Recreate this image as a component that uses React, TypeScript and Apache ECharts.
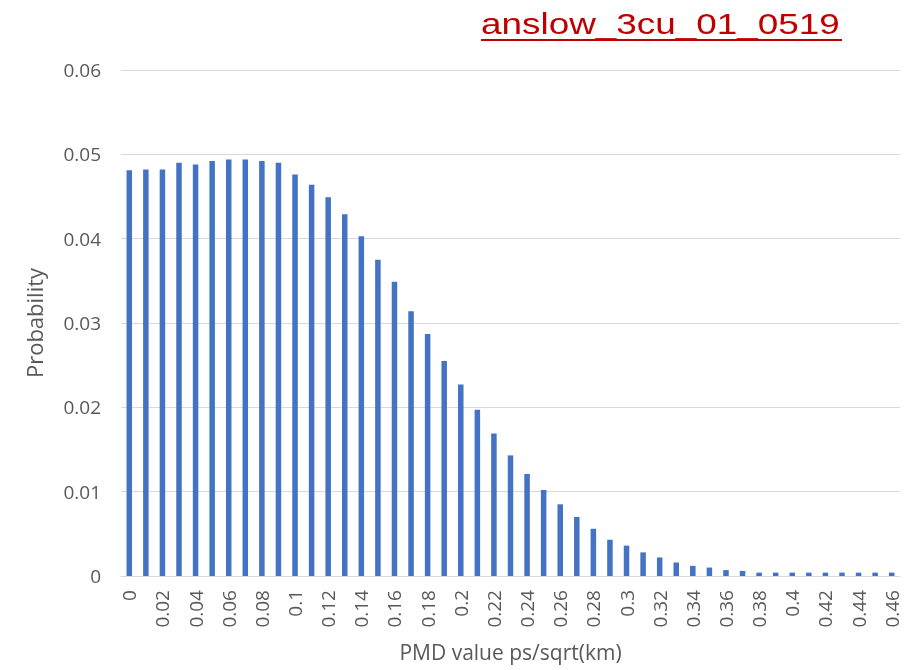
import React, { useEffect, useRef } from "react";
import * as echarts from "echarts";

const categories: string[] = [
  "0", "0.01", "0.02", "0.03", "0.04", "0.05", "0.06", "0.07", "0.08", "0.09",
  "0.1", "0.11", "0.12", "0.13", "0.14", "0.15", "0.16", "0.17", "0.18", "0.19",
  "0.2", "0.21", "0.22", "0.23", "0.24", "0.25", "0.26", "0.27", "0.28", "0.29",
  "0.3", "0.31", "0.32", "0.33", "0.34", "0.35", "0.36", "0.37", "0.38", "0.39",
  "0.4", "0.41", "0.42", "0.43", "0.44", "0.45", "0.46",
];

const probability: number[] = [
  0.0481, 0.0482, 0.0482, 0.049, 0.0488, 0.0492, 0.0494, 0.0494, 0.0492, 0.049,
  0.0476, 0.0464, 0.0449, 0.0429, 0.0403, 0.0375, 0.0349, 0.0314, 0.0287, 0.0255,
  0.0227, 0.0197, 0.0169, 0.0143, 0.0121, 0.0102, 0.0085, 0.007, 0.0056, 0.0043,
  0.0036, 0.0028, 0.0022, 0.0016, 0.0012, 0.001, 0.0007, 0.0006, 0.0004, 0.0004,
  0.0004, 0.0004, 0.0004, 0.0004, 0.0004, 0.0004, 0.0004,
];

const titleText = "anslow_3cu_01_0519";
const xAxisName = "PMD value ps/sqrt(km)";
const yAxisName = "Probability";

export default function App() {
  const ref = useRef<HTMLDivElement>(null);

  useEffect(() => {
    if (!ref.current) return;
    const chart = echarts.init(ref.current, undefined, { renderer: "svg" });
    const font = "'Open Sans', sans-serif";
    chart.setOption({
      animation: false,
      grid: {
        left: 121,
        right: 10,
        top: 70,
        height: 506,
        containLabel: false,
        outerBoundsMode: "none",
      },
      graphic: [
        {
          type: "text",
          x: 481,
          y: 9,
          scaleX: 1.23,
          style: {
            text: titleText,
            fill: "#c00000",
            fontSize: 30,
            fontFamily: "'Liberation Sans', Arial, sans-serif",
            textVerticalAlign: "top",
          },
        },
        {
          type: "line",
          shape: { x1: 481, y1: 40, x2: 842, y2: 40 },
          style: { stroke: "#c00000", lineWidth: 2 },
        },
      ],
      xAxis: {
        type: "category",
        data: categories,
        name: xAxisName,
        nameLocation: "middle",
        nameGap: 65,
        nameTextStyle: { color: "#595959", fontSize: 21, fontFamily: font },
        axisLine: { show: true, lineStyle: { color: "#d9d9d9", width: 1 } },
        axisTick: { show: false },
        axisLabel: {
          interval: 1,
          rotate: 90,
          color: "#595959",
          fontSize: 19,
          fontFamily: font,
          margin: 14,
        },
      },
      yAxis: {
        type: "value",
        min: 0,
        max: 0.06,
        interval: 0.01,
        name: yAxisName,
        nameLocation: "middle",
        nameGap: 76,
        nameTextStyle: { color: "#595959", fontSize: 22, fontFamily: font },
        axisLine: { show: false },
        axisTick: { show: false },
        splitLine: { lineStyle: { color: "#d9d9d9", width: 1 } },
        axisLabel: {
          color: "#595959",
          fontSize: 19,
          fontFamily: font,
          margin: 20,
          formatter: (v: number) => (v === 0 ? "0" : v.toFixed(2)),
        },
      },
      series: [
        {
          type: "bar",
          data: probability,
          barWidth: 5.5,
          itemStyle: { color: "#4472c4" },
        },
      ],
    });
    return () => chart.dispose();
  }, []);

  return (
    <div
      ref={ref}
      style={{ position: "fixed", left: 0, top: 0, width: 910, height: 670 }}
    />
  );
}
